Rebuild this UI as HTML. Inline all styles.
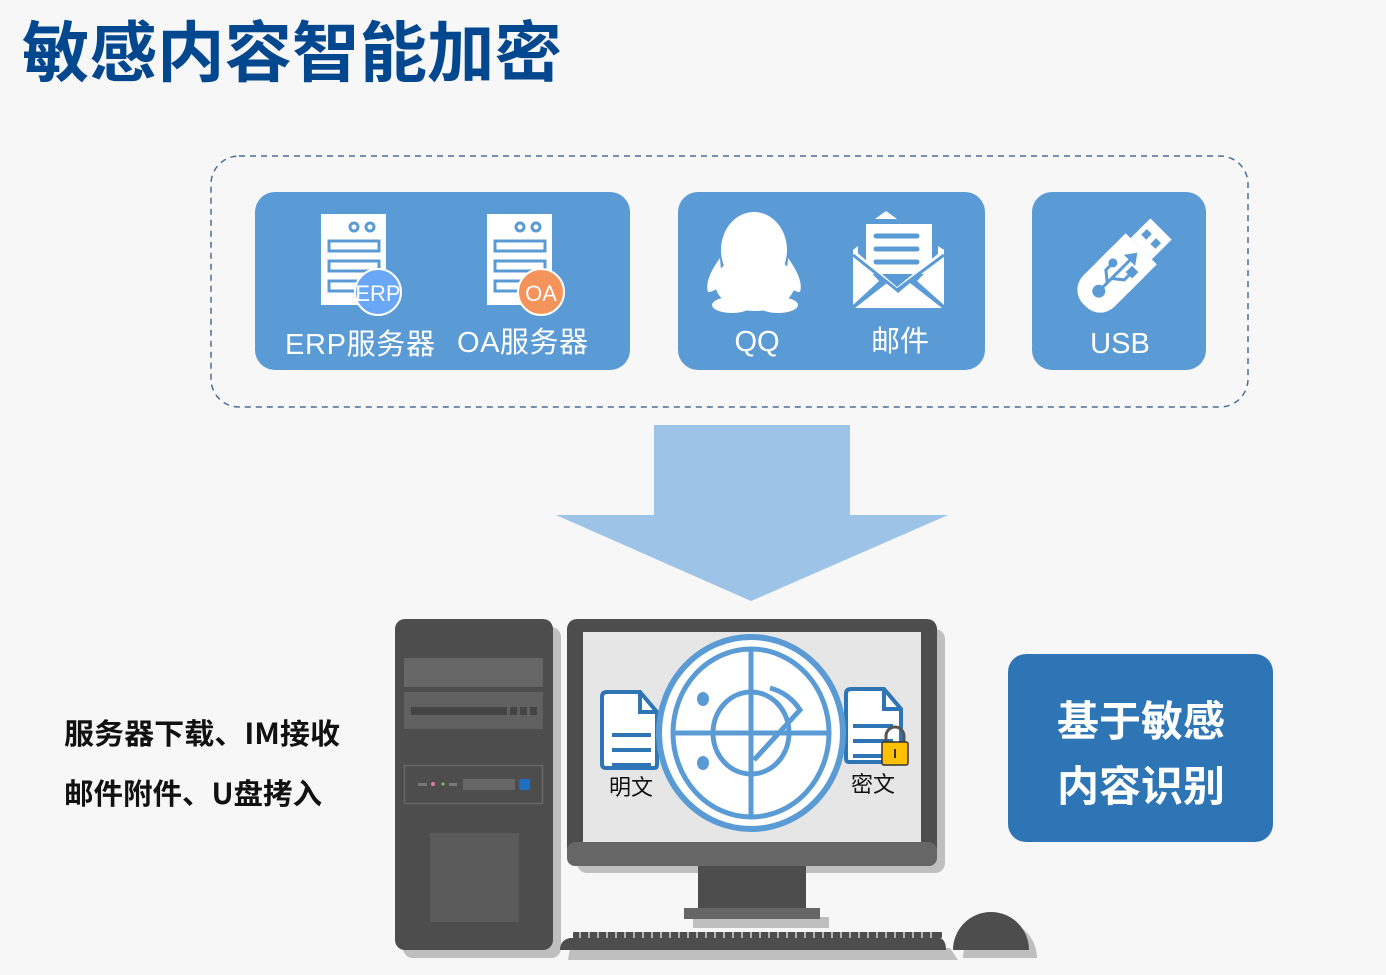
<!DOCTYPE html>
<html><head><meta charset="utf-8">
<style>
html,body{margin:0;padding:0;background:#f7f7f7;}
body{width:1386px;height:975px;overflow:hidden;}
svg{display:block;}
text{font-family:"Liberation Sans","Noto Sans CJK SC",sans-serif;}
</style></head>
<body>
<svg width="1386" height="975" viewBox="0 0 1386 975" xmlns="http://www.w3.org/2000/svg">
<rect width="1386" height="975" fill="#f7f7f7"/>
<text x="22" y="76" font-size="66" font-weight="bold" fill="#03478f" style="font-family:'Noto Sans CJK SC',sans-serif" textLength="540" lengthAdjust="spacingAndGlyphs">敏感内容智能加密</text>

<rect x="211" y="156" width="1037" height="251" rx="28" fill="none" stroke="#4a6f96" stroke-width="1.5" stroke-dasharray="6,5"/>

<rect x="255" y="192" width="375" height="178" rx="20" fill="#5b9bd5"/>
<g fill="#fff">
 <rect x="321" y="214" width="65" height="91"/>
 <rect x="487" y="214" width="65" height="91"/>
</g>
<g fill="none" stroke="#5b9bd5" stroke-width="3">
 <circle cx="354" cy="227" r="4"/><circle cx="370" cy="227" r="4"/>
 <circle cx="520" cy="227" r="4"/><circle cx="536" cy="227" r="4"/>
 <rect x="329" y="241" width="50" height="10"/><rect x="329" y="261" width="50" height="10"/><rect x="329" y="281" width="50" height="10"/>
 <rect x="495" y="241" width="50" height="10"/><rect x="495" y="261" width="50" height="10"/><rect x="495" y="281" width="50" height="10"/>
</g>
<circle cx="378" cy="292" r="23" fill="#6aa8f7" stroke="#fff" stroke-width="2"/>
<text x="378" y="301" font-size="22" fill="#fff" text-anchor="middle">ERP</text>
<circle cx="541" cy="292" r="23" fill="#f4935a" stroke="#fff" stroke-width="2"/>
<text x="541" y="301" font-size="22" fill="#fff" text-anchor="middle">OA</text>
<text x="285" y="354" font-size="29" fill="#fff" textLength="150">ERP服务器</text>
<text x="457" y="352" font-size="29" fill="#fff" textLength="131">OA服务器</text>

<rect x="678" y="192" width="307" height="178" rx="20" fill="#5b9bd5"/>
<g fill="#fff">
 <ellipse cx="754" cy="250" rx="33" ry="38"/>
 <ellipse cx="755" cy="283" rx="40" ry="28"/>
 <path d="M720 258 Q704 280 708 292 Q716 292 722 282 Z"/>
 <path d="M788 258 Q804 280 800 292 Q792 292 786 282 Z"/>
 <ellipse cx="732" cy="305" rx="20" ry="8"/>
 <ellipse cx="778" cy="305" rx="20" ry="8"/>
 <path d="M886 211 L875 219 L897 219 Z"/>
 <rect x="866" y="224" width="66" height="50"/>
 <path d="M853 253 L853 305 L879 281 Z"/><path d="M944 253 L944 305 L917 281 Z"/>
 <path d="M855 308 L942 308 L910 283 L898 293 L887 283 Z"/>
 <path d="M853 249 L853 256 L897 290 L944 256 L944 249 L897 287 Z"/>
 <path d="M858 246 L853 250 L858 256 Z"/><path d="M938 246 L944 250 L938 256 Z"/>
</g>
<g stroke="#5b9bd5" stroke-width="5" stroke-linecap="round">
 <line x1="876" y1="236" x2="917" y2="236"/><line x1="876" y1="249" x2="917" y2="249"/><line x1="876" y1="262" x2="917" y2="262"/>
</g>
<path d="M853 255 L897 290 L944 255" fill="none" stroke="#5b9bd5" stroke-width="3"/>
<text x="757" y="351" font-size="29" fill="#fff" text-anchor="middle">QQ</text>
<text x="900" y="351" font-size="29" fill="#fff" text-anchor="middle">邮件</text>

<rect x="1032" y="192" width="174" height="178" rx="20" fill="#5b9bd5"/>
<g transform="translate(1120 270) rotate(-45)">
 <rect x="-50" y="-22" width="80" height="44" rx="20" fill="#fff"/>
 <rect x="-10" y="-22" width="40" height="44" fill="#fff"/>
 <rect x="30" y="-15" width="28" height="30" fill="#fff"/>
 <rect x="40" y="-10" width="8" height="7" fill="#5b9bd5"/>
 <rect x="40" y="3" width="8" height="7" fill="#5b9bd5"/>
 <g stroke="#5b9bd5" stroke-width="3" fill="#5b9bd5">
  <line x1="-30" y1="0" x2="15" y2="0"/>
  <circle cx="-30" cy="0" r="5"/>
  <path d="M-18 0 L-10 -10 L0 -10" fill="none"/><circle cx="0" cy="-10" r="3"/>
  <path d="M-12 0 L-4 10 L4 10" fill="none"/><rect x="4" y="7" width="6" height="6"/>
  <path d="M15 -5 L22 0 L15 5 Z"/>
 </g>
</g>
<text x="1120" y="353" font-size="29" fill="#fff" text-anchor="middle">USB</text>

<path d="M654 425 L850 425 L850 515 L948 515 L751 601 L556 515 L654 515 Z" fill="#9dc3e6"/>

<text x="64" y="744" font-size="29" font-weight="bold" fill="#111" style="font-family:'Noto Sans CJK SC',sans-serif" textLength="276" lengthAdjust="spacingAndGlyphs">服务器下载、IM接收</text>
<text x="64" y="804" font-size="29" font-weight="bold" fill="#111" style="font-family:'Noto Sans CJK SC',sans-serif" textLength="258" lengthAdjust="spacingAndGlyphs">邮件附件、U盘拷入</text>

<rect x="403" y="627" width="158" height="331" rx="10" fill="#bfbfbf"/>
<rect x="395" y="619" width="158" height="331" rx="10" fill="#4d4d4d"/>
<rect x="404" y="658" width="139" height="29" fill="#666"/>
<rect x="404" y="692" width="139" height="37" fill="#606060"/>
<rect x="411" y="707" width="96" height="8" fill="#444"/>
<rect x="510" y="707" width="7" height="8" fill="#444"/><rect x="520" y="707" width="7" height="8" fill="#444"/><rect x="530" y="707" width="7" height="8" fill="#444"/>
<rect x="404.5" y="765.5" width="138" height="38" fill="none" stroke="#666" stroke-width="1.5"/>
<rect x="418" y="783" width="9" height="3" fill="#777"/><circle cx="433" cy="784" r="2" fill="#e07aa0"/><circle cx="443" cy="784" r="1.5" fill="#8bc34a"/><rect x="449" y="783" width="8" height="3" fill="#777"/>
<rect x="463" y="779" width="52" height="11" fill="#666"/>
<rect x="519" y="779" width="11" height="11" rx="2" fill="#1c6fc2"/>
<rect x="430" y="833" width="89" height="89" fill="#5a5a5a"/>

<rect x="577" y="629" width="368" height="244" rx="10" fill="#bfbfbf"/>
<rect x="567" y="619" width="370" height="247" rx="10" fill="#4d4d4d"/>
<rect x="567" y="842" width="370" height="24" rx="8" fill="#666"/>
<rect x="583" y="632" width="338" height="210" fill="#e6e6e6"/>
<rect x="698" y="866" width="108" height="42" fill="#4d4d4d"/>
<rect x="693" y="917" width="136" height="11" fill="#bfbfbf"/>
<rect x="684" y="908" width="136" height="11" fill="#666"/>
<path d="M570 948 L950 948 L958 960 L568 960 Z" fill="#bfbfbf"/>
<path d="M570 938 L940 938 Q946 940 946 950 L560 950 Q560 940 570 938 Z" fill="#4d4d4d"/>
<rect x="573" y="932" width="369" height="6" rx="1" fill="#4d4d4d"/>
<g stroke="#f7f7f7" stroke-width="1.2">
<path d="M580 932v6M589 932v6M598 932v6M607 932v6M616 932v6M625 932v6M634 932v6M643 932v6M652 932v6M661 932v6M670 932v6M679 932v6M688 932v6M697 932v6M706 932v6M715 932v6M724 932v6M733 932v6M742 932v6M751 932v6M760 932v6M769 932v6M778 932v6M787 932v6M796 932v6M805 932v6M814 932v6M823 932v6M832 932v6M841 932v6M850 932v6M859 932v6M868 932v6M877 932v6M886 932v6M895 932v6M904 932v6M913 932v6M922 932v6M931 932v6"/>
</g>
<path d="M963 958 A37 37 0 0 1 1037 958 Z" fill="#bfbfbf"/>
<path d="M953 950 A37 37 0 0 1 1029 950 Z" fill="#4d4d4d"/>

<g fill="none" stroke="#2e75b6" stroke-width="4">
 <path d="M607 692 L640 692 L657 712 L657 765 Q657 768 654 768 L606 768 Q602 768 602 764 L602 697 Q602 692 607 692 Z" fill="#fff"/>
 <path d="M640 692 L640 712 L657 712"/>
 <path d="M851 689 L884 689 L901 709 L901 762 L849 762 Q846 762 846 758 L846 694 Q846 689 851 689 Z" fill="#fff"/>
 <path d="M884 689 L884 709 L901 709"/>
</g>
<g stroke="#2e75b6" stroke-width="4">
 <line x1="612" y1="735" x2="651" y2="735"/><line x1="612" y1="750" x2="651" y2="750"/><line x1="612" y1="765" x2="651" y2="765"/>
 <line x1="853" y1="726" x2="893" y2="726"/><line x1="853" y1="741" x2="893" y2="741"/><line x1="853" y1="756" x2="893" y2="756"/>
</g>
<path d="M886 744 L886 736 A9 9 0 0 1 904 736 L904 744" fill="none" stroke="#555" stroke-width="3"/>
<rect x="882" y="742" width="26" height="23" rx="2" fill="#ffc000" stroke="#333" stroke-width="1.5"/>
<rect x="894" y="749" width="2" height="9" fill="#333"/>
<text x="631" y="795" font-size="22" fill="#111" text-anchor="middle" style="font-family:'Noto Sans CJK SC',sans-serif">明文</text>
<text x="873" y="792" font-size="22" fill="#111" text-anchor="middle" style="font-family:'Noto Sans CJK SC',sans-serif">密文</text>

<ellipse cx="751" cy="733" rx="92" ry="96" fill="#fff" stroke="#5b9bd5" stroke-width="6"/>
<ellipse cx="751" cy="733" rx="78" ry="84" fill="none" stroke="#5b9bd5" stroke-width="5"/>
<ellipse cx="751" cy="733" rx="38" ry="41" fill="none" stroke="#5b9bd5" stroke-width="5"/>
<line x1="751" y1="649" x2="751" y2="817" stroke="#5b9bd5" stroke-width="5"/>
<line x1="673" y1="733" x2="829" y2="733" stroke="#5b9bd5" stroke-width="5"/>
<path d="M770 688 A50 50 0 0 1 800 710 L754 760" fill="none" stroke="#5b9bd5" stroke-width="5"/>
<ellipse cx="703" cy="699" rx="6" ry="7" fill="#5b9bd5"/>
<ellipse cx="703" cy="763" rx="6" ry="7" fill="#5b9bd5"/>

<rect x="1008" y="654" width="265" height="188" rx="18" fill="#2e75b6"/>
<text x="1141" y="736" font-size="42" font-weight="bold" fill="#fff" text-anchor="middle" style="font-family:'Noto Sans CJK SC',sans-serif">基于敏感</text>
<text x="1141" y="801" font-size="42" font-weight="bold" fill="#fff" text-anchor="middle" style="font-family:'Noto Sans CJK SC',sans-serif">内容识别</text>
</svg>
</body></html>
